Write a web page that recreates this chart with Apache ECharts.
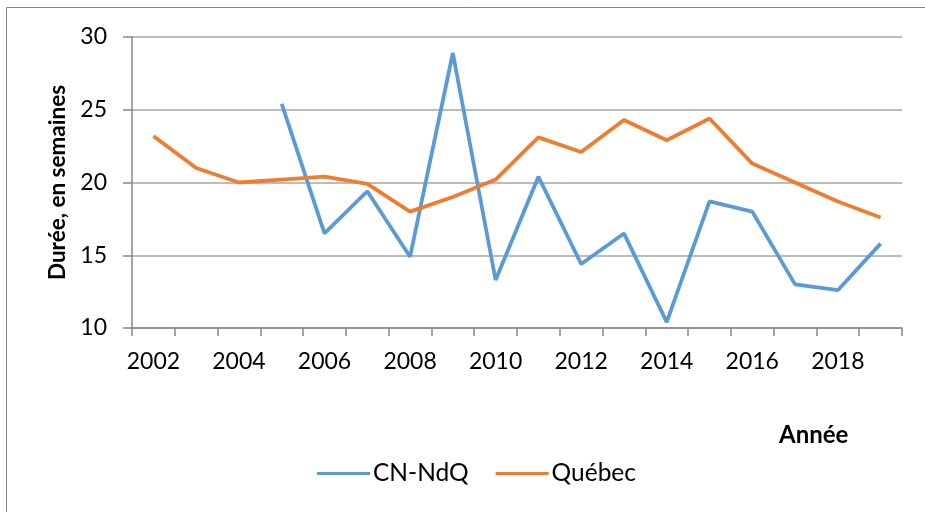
<!DOCTYPE html>
<html>
<head>
<meta charset="utf-8">
<script src="https://cdn.jsdelivr.net/npm/echarts@6/dist/echarts.min.js"></script>
<style>html,body{margin:0;padding:0;background:#fff}#c{width:925px;height:512px}</style>
</head>
<body>
<div id="c"></div>
<script>
var years = ['2002','2003','2004','2005','2006','2007','2008','2009','2010','2011','2012','2013','2014','2015','2016','2017','2018','2019'];
var cnNdQ = [null, null, null, 25.4, 16.5, 19.4, 14.9, 28.9, 13.3, 20.4, 14.4, 16.5, 10.4, 18.7, 18.0, 13.0, 12.6, 15.8];
var quebec = [23.2, 21.0, 20.0, 20.2, 20.4, 19.9, 18.0, 19.0, 20.2, 23.1, 22.1, 24.3, 22.9, 24.4, 21.3, 20.0, 18.7, 17.6];
var yTicks = {min: 10, max: 30, interval: 5};

var FONT = 'Lato';
var chart = echarts.init(document.getElementById('c'), null, {renderer: 'canvas'});
chart.setOption({
  animation: false,
  backgroundColor: '#fff',
  textStyle: {fontFamily: FONT},
  graphic: [{
    type: 'rect', shape: {x: 6.5, y: 7.5, width: 1000, height: 1000},
    style: {fill: 'none', stroke: '#868686', lineWidth: 1}, silent: true, z: -1
  }, {
    type: 'text', left: 779, top: 423,
    style: {text: 'Année', font: 'bold 24px ' + FONT, fill: '#000'}
  }],
  grid: {left: 132, right: 23, top: 37, bottom: 184, containLabel: false},
  legend: {
    bottom: 21, left: 312, itemWidth: 53, itemHeight: 3, itemGap: 27,
    icon: 'rect',
    textStyle: {fontSize: 24.5, color: '#000', fontFamily: FONT, padding: [0,0,0,-2]},
    data: ['CN-NdQ', 'Québec']
  },
  xAxis: {
    type: 'category', data: years, boundaryGap: true,
    axisLine: {lineStyle: {color: '#868686', width: 1.5}},
    axisTick: {show: true, interval: 0, length: 8, lineStyle: {color: '#868686', width: 1.5}},
    axisLabel: {interval: 1, color: '#000', fontSize: 23, margin: 22, fontFamily: FONT},
    splitLine: {show: false}
  },
  yAxis: {
    type: 'value', min: yTicks.min, max: yTicks.max, interval: yTicks.interval,
    name: 'Durée, en semaines', nameLocation: 'middle', nameGap: 63, nameRotate: 90,
    nameTextStyle: {fontSize: 22.5, fontWeight: 'bold', color: '#000', fontFamily: FONT},
    axisLine: {show: true, lineStyle: {color: '#868686', width: 1.5}},
    axisTick: {show: true, length: 9, lineStyle: {color: '#868686', width: 1.5}},
    axisLabel: {color: '#000', fontSize: 23, margin: 25, fontFamily: FONT},
    splitLine: {show: true, lineStyle: {color: '#a6a6a6', width: 1.5}}
  },
  series: [{
    name: 'CN-NdQ', type: 'line', data: cnNdQ, symbol: 'none', connectNulls: false,
    lineStyle: {color: '#5B9BD5', width: 3.8}, itemStyle: {color: '#5B9BD5'}
  }, {
    name: 'Québec', type: 'line', data: quebec, symbol: 'none',
    lineStyle: {color: '#ED7D31', width: 3.8}, itemStyle: {color: '#ED7D31'}
  }]
});
</script>
</body>
</html>
